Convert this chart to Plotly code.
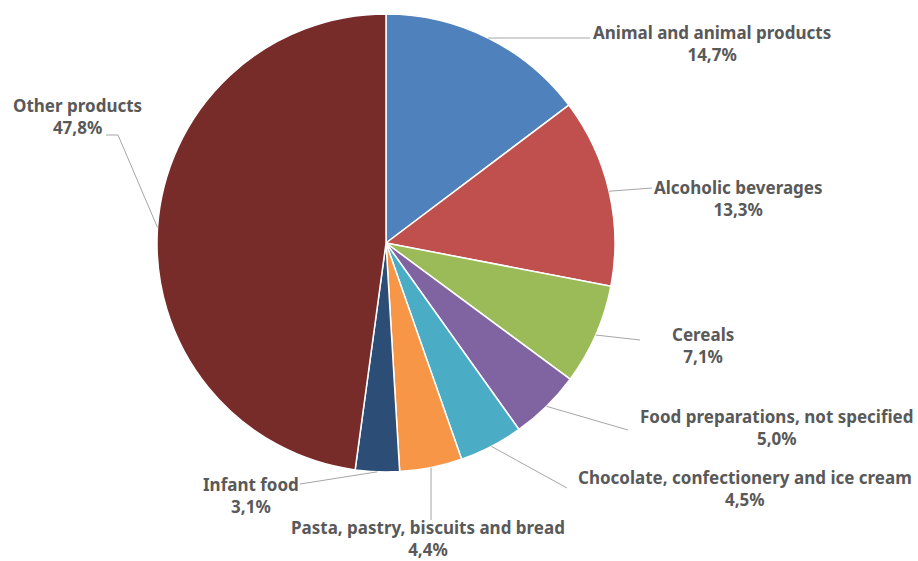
import math
import plotly.graph_objects as go

# Share of products by category (%)
categories = [
    "Animal and animal products",
    "Alcoholic beverages",
    "Cereals",
    "Food preparations, not specified",
    "Chocolate, confectionery and ice cream",
    "Pasta, pastry, biscuits and bread",
    "Infant food",
    "Other products",
]
shares = [14.7, 13.3, 7.1, 5.0, 4.5, 4.4, 3.1, 47.8]
colors = ["#4F81BD", "#C0504D", "#9BBB59", "#8064A2",
          "#4BACC6", "#F79646", "#2C4D75", "#772C2A"]

W, H = 918, 561
CX, CY, R = 386, 243, 229  # pie centre and radius in pixels

# Label layout (pixels): text centre, leader-line end point
label_pos = [
    (712, 43, 590, 38),
    (738, 198, 652, 188),
    (703, 346, 640, 340),
    (777, 427, 628, 430),
    (745, 488, 567, 488),
    (428, 538, 431, 520),
    (251, 495, 300, 484),
    (77, 116, 118, 135),
]


def px(x):
    return x / W


def py(y):
    return 1 - y / H


fig = go.Figure(go.Pie(
    labels=categories,
    values=shares,
    sort=False,
    direction="clockwise",
    rotation=0,
    marker=dict(colors=colors, line=dict(color="white", width=1.5)),
    textinfo="none",
    hoverinfo="label+percent",
    showlegend=False,
    domain=dict(x=[px(CX - R), px(CX + R)], y=[py(CY + R), py(CY - R)]),
))

total = sum(shares)
shapes, annotations = [], []
acc = 0.0
for name, v, (tx, ty, lx, ly) in zip(categories, shares, label_pos):
    mid = (acc + v / 2) / total * 2 * math.pi
    acc += v
    ex = CX + R * math.sin(mid)
    ey = CY - R * math.cos(mid)
    path = f"M {px(ex)} {py(ey)} L {px(lx)} {py(ly)}"
    if name == "Other products":
        path += f" L {px(lx - 12)} {py(ly)}"
    shapes.append(dict(type="path", xref="paper", yref="paper", path=path,
                       line=dict(color="#A6A6A6", width=1)))
    pct = f"{v:.1f}".replace(".", ",") + "%"
    annotations.append(dict(
        x=px(tx), y=py(ty), xref="paper", yref="paper",
        text=f"<b>{name}<br>{pct}</b>", showarrow=False,
        xanchor="center", yanchor="middle", align="center",
        font=dict(family="Noto Sans", size=17, color="#595959"),
    ))

fig.update_layout(
    width=W, height=H,
    margin=dict(l=0, r=0, t=0, b=0),
    paper_bgcolor="white", plot_bgcolor="white",
    shapes=shapes, annotations=annotations,
)

fig.write_html("out.html")
